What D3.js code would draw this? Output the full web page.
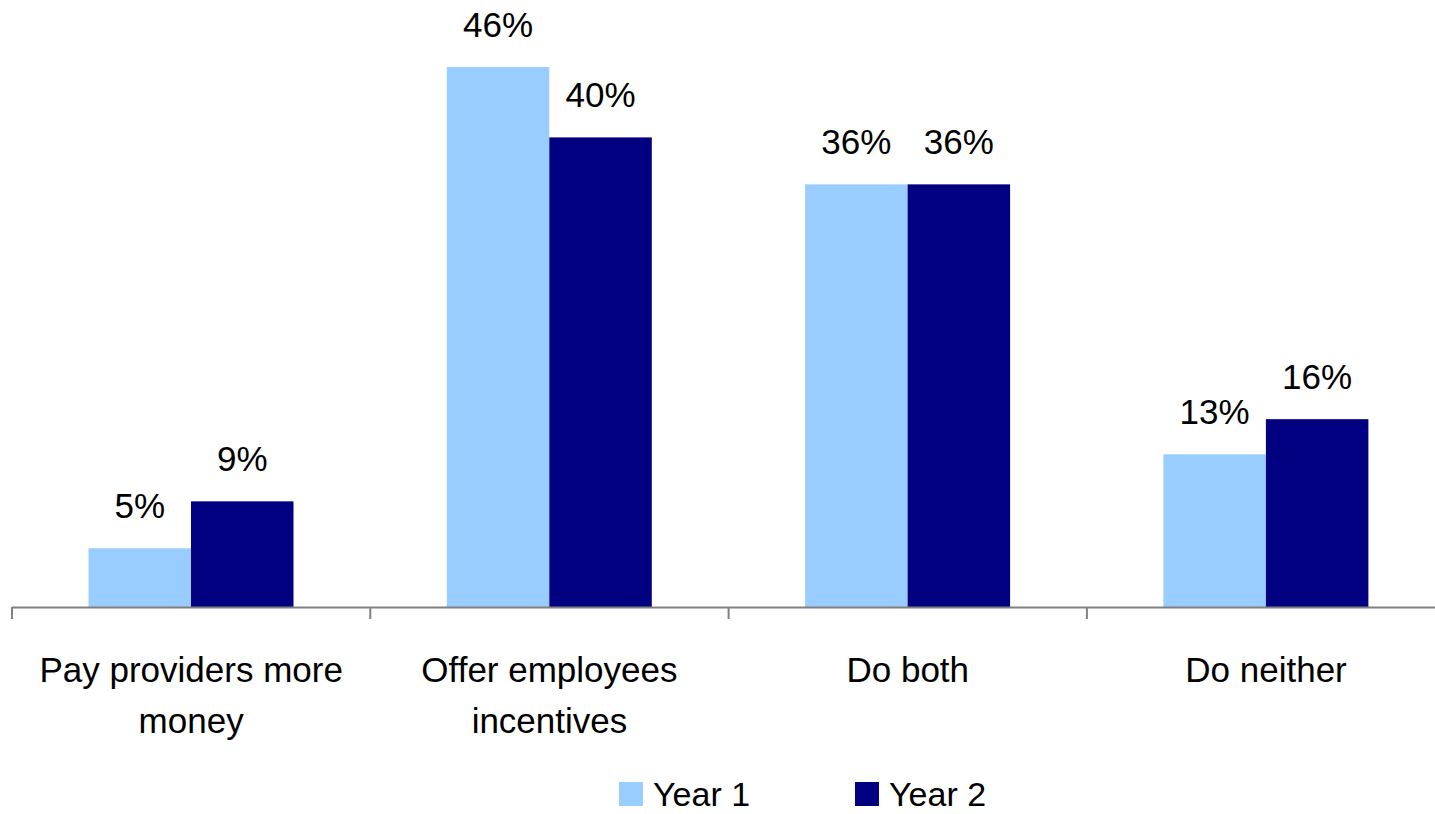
<!DOCTYPE html>
<html><head><meta charset="utf-8">
<script src="https://cdn.jsdelivr.net/npm/d3@7"></script>
<style>body{margin:0;background:#fff}svg{display:block}text{font-family:"Liberation Sans",Arial,sans-serif;fill:#000}</style>
</head><body>
<svg id="c" width="1435" height="814"></svg>
<script>
const categories = [["Pay providers more","money"],["Offer employees","incentives"],["Do both"],["Do neither"]];
const seriesNames = ["Year 1","Year 2"];
const year1 = [5,46,36,13];
const year2 = [9,40,36,16];
const colors = ["#99CCFF","#000080"];

const svg = d3.select("#c");
const x0 = 12, bandW = 358.3;
const x = d3.scaleBand().domain(d3.range(categories.length)).range([x0, x0 + bandW*categories.length]).paddingInner(0).paddingOuter(0);
const inner = d3.scaleBand().domain([0,1]).range([76.5, 76.5+205]);
const y = d3.scaleLinear().domain([0,50]).range([607, 20]);
const fs = 35;

const series = [year1, year2];
series.forEach((vals, s) => {
  svg.append("g").selectAll("rect").data(vals).join("rect")
    .attr("x", (d,i) => x(i) + inner(s))
    .attr("width", inner.bandwidth())
    .attr("y", d => y(d))
    .attr("height", d => y(0) - y(d))
    .attr("fill", colors[s]);
  svg.append("g").selectAll("text").data(vals).join("text")
    .attr("x", (d,i) => x(i) + inner(s) + inner.bandwidth()/2)
    .attr("y", d => y(d) - 30)
    .attr("text-anchor","middle")
    .style("font-size", fs+"px")
    .text(d => d + "%");
});

// axis
const ax = svg.append("g").attr("transform","translate(0,607)");
ax.append("line").attr("x1", x0).attr("x2", 1435).attr("y1",0.5).attr("y2",0.5).attr("stroke","#808080").attr("stroke-width",2);
const ticks = d3.range(categories.length + 1).map(i => x0 + i*bandW);
ax.selectAll("line.t").data(ticks).join("line").attr("class","t")
  .attr("x1", d => d).attr("x2", d => d).attr("y1",0).attr("y2",12)
  .attr("stroke","#808080").attr("stroke-width",2);

// category labels
categories.forEach((lines, i) => {
  const t = svg.append("text").attr("text-anchor","middle").style("font-size", fs+"px")
    .attr("x", x(i) + x.bandwidth()/2).attr("y", 682);
  lines.forEach((l, k) => t.append("tspan").attr("x", x(i) + x.bandwidth()/2).attr("dy", k === 0 ? 0 : 51).text(l));
});

// legend
const legX = [619, 855];
seriesNames.forEach((n, s) => {
  svg.append("rect").attr("x", legX[s]).attr("y", 782).attr("width", 24).attr("height", 24).attr("fill", colors[s]);
  svg.append("text").attr("x", legX[s] + 34).attr("y", 806).style("font-size", "34px").text(n);
});
</script>
</body></html>
